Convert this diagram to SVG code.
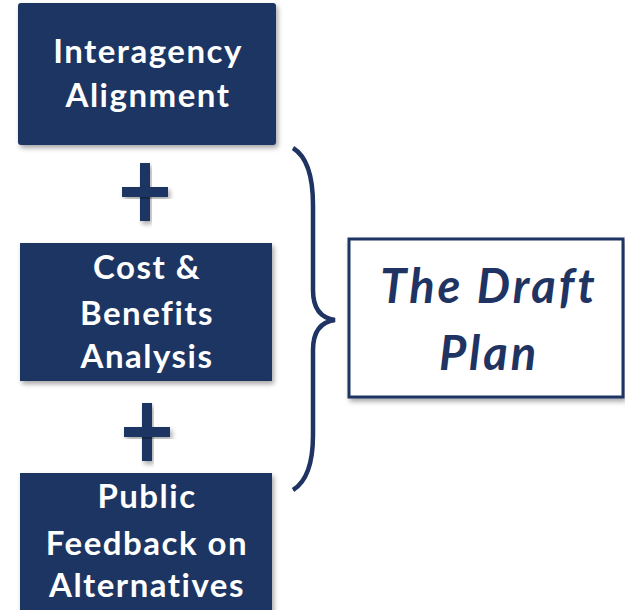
<svg xmlns="http://www.w3.org/2000/svg" width="625" height="610" viewBox="0 0 625 610">
<defs>
<filter id="sh" x="-10%" y="-10%" width="125%" height="130%">
<feDropShadow dx="2" dy="3" stdDeviation="2.5" flood-color="#000" flood-opacity="0.35"/>
</filter>
</defs>
<style>
.box{fill:#1F3462;filter:url(#sh);}
.lbl{font-family:Lato,"Open Sans","Liberation Sans",sans-serif;font-weight:bold;font-size:33px;letter-spacing:1.5px;fill:#fff;text-anchor:middle;}
.plus{fill:#1F3462;filter:url(#sh);}
.brace{fill:none;stroke:#1F3462;stroke-width:4.5;stroke-linecap:butt;}
.plan{fill:#fff;stroke:#1F3462;stroke-width:3;filter:url(#sh);}
.pl{font-family:Lato,"Open Sans","Liberation Sans",sans-serif;font-weight:bold;font-style:italic;font-size:47px;letter-spacing:3px;fill:#1F3462;text-anchor:middle;}
</style>
<rect width="625" height="610" fill="#fff"/>
<g id="interagency">
<rect class="box" x="18" y="3" width="258" height="142" rx="3"/>
<text class="lbl" x="148" y="63">Interagency</text>
<text class="lbl" x="148" y="107">Alignment</text>
</g>
<g id="plus1">
<rect class="plus" x="140" y="163" width="10" height="58"/>
<rect class="plus" x="122" y="187" width="46" height="10"/>
</g>
<g id="cost">
<rect class="box" x="20" y="243" width="252" height="138"/>
<text class="lbl" x="147" y="279">Cost &amp;</text>
<text class="lbl" x="147" y="325">Benefits</text>
<text class="lbl" x="147" y="368">Analysis</text>
</g>
<g id="plus2">
<rect class="plus" x="142" y="403" width="10" height="58"/>
<rect class="plus" x="124" y="427" width="46" height="10"/>
</g>
<g id="public">
<rect class="box" x="20" y="473" width="252" height="140"/>
<text class="lbl" x="147" y="508">Public</text>
<text class="lbl" x="147" y="555">Feedback on</text>
<text class="lbl" x="147" y="597">Alternatives</text>
</g>
<g id="connectors">
<path class="brace" d="M293,148 C306,156 313,175 313,205 L313,290 C313,308 320,318 335,320 C320,322 313,332 313,350 L313,435 C313,465 306,482 293,490"/>
</g>
<g id="draft-plan">
<rect class="plan" x="349" y="239" width="274" height="158"/>
<text class="pl" x="489" y="303">The Draft</text>
<text class="pl" x="489" y="370">Plan</text>
</g>
</svg>
